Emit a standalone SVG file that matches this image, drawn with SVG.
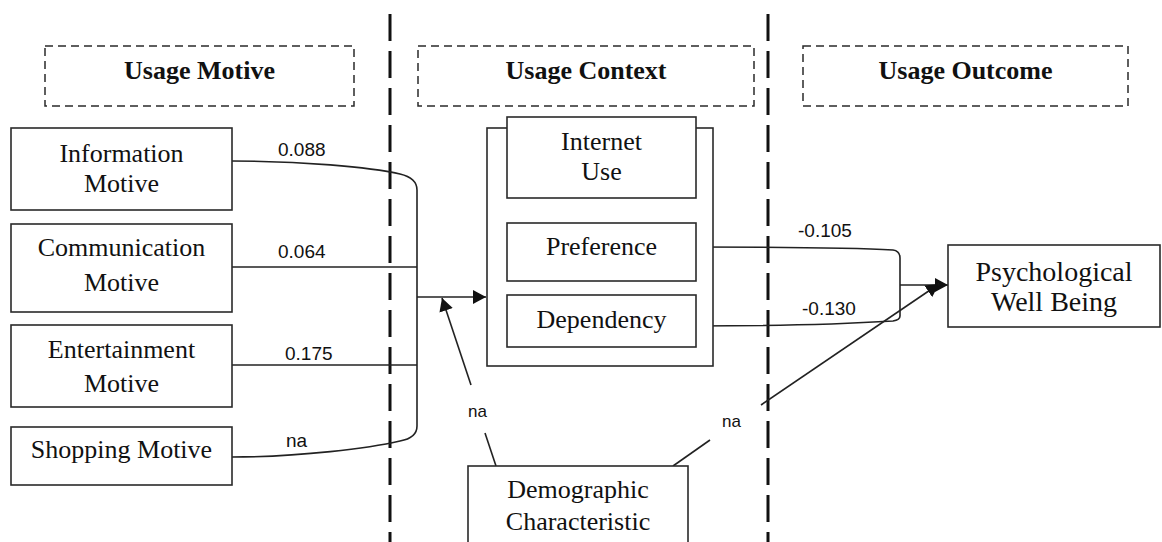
<svg xmlns="http://www.w3.org/2000/svg" width="1162" height="542" viewBox="0 0 1162 542">
  <style>
    .box { fill: #fff; stroke: #2a2a2a; stroke-width: 1.6; }
    .hdr { fill: none; stroke: #2a2a2a; stroke-width: 1.5; stroke-dasharray: 8 5; }
    .divider { fill: none; stroke: #111; stroke-width: 3; stroke-dasharray: 27 10; }
    .wire { fill: none; stroke: #222; stroke-width: 1.6; }
    .node { font-family: "Liberation Serif", "Times New Roman", serif; font-size: 26px; fill: #111; text-anchor: middle; }
    .big { font-size: 28px; }
    .head { font-family: "Liberation Serif", "Times New Roman", serif; font-size: 26px; font-weight: bold; fill: #111; text-anchor: middle; }
    .coef { font-family: "Liberation Sans", Arial, sans-serif; font-size: 19px; fill: #111; }
    .small { font-size: 17px; }
  </style>
  <defs>
    <marker id="arrow" markerUnits="userSpaceOnUse" markerWidth="14" markerHeight="14" refX="13" refY="7" orient="auto">
      <path d="M0,0 L13,7 L0,14 Z" fill="#111"/>
    </marker>
  </defs>

  <rect width="1162" height="542" fill="#fff"/>

  <!-- section dividers -->
  <g id="dividers">
    <line class="divider" x1="390" y1="14" x2="390" y2="542"/>
    <line class="divider" x1="768" y1="14" x2="768" y2="542"/>
  </g>

  <!-- section headings -->
  <g id="head-motive">
    <rect class="hdr" x="45" y="46" width="309" height="60"/>
    <text class="head" x="199.5" y="79">Usage Motive</text>
  </g>
  <g id="head-context">
    <rect class="hdr" x="418" y="46" width="336" height="60"/>
    <text class="head" x="586" y="79">Usage Context</text>
  </g>
  <g id="head-outcome">
    <rect class="hdr" x="803" y="46" width="325" height="60"/>
    <text class="head" x="965.5" y="79">Usage Outcome</text>
  </g>

  <!-- connectors -->
  <g id="connectors">
    <!-- motives joined into one bracket -->
    <path class="wire" d="M232,161 C300,161 370,167 400,174 Q417,178 417,190 V426 Q417,438 400,441 C370,448 300,457 232,457"/>
    <path class="wire" d="M232,267 H417"/>
    <path class="wire" d="M232,365 H417"/>
    <path class="wire" d="M417,297 H486" marker-end="url(#arrow)"/>
    <!-- internet use dimensions into well being -->
    <path class="wire" d="M696,247 C770,247 860,248 893,250 Q900,251 900,258 V316 Q900,320 893,321 C860,323 780,326 696,326"/>
    <path class="wire" d="M900,285 H948" marker-end="url(#arrow)"/>
    <!-- demographic effects -->
    <path class="wire" d="M496,466 L485,433"/>
    <path class="wire" d="M471,385 L442,298" marker-end="url(#arrow)"/>
    <path class="wire" d="M673,466 L710,440"/>
    <path class="wire" d="M761,405 L939,284" marker-end="url(#arrow)"/>
  </g>

  <!-- path coefficients -->
  <g id="labels">
    <text class="coef" x="278" y="156">0.088</text>
    <text class="coef" x="278" y="258">0.064</text>
    <text class="coef" x="285" y="360">0.175</text>
    <text class="coef" x="286" y="447">na</text>
    <text class="coef" x="798" y="237">-0.105</text>
    <text class="coef" x="802" y="315">-0.130</text>
    <text class="coef small" x="468" y="417">na</text>
    <text class="coef small" x="722" y="427">na</text>
  </g>

  <!-- motive nodes -->
  <g id="information-motive">
    <rect class="box" x="11" y="128" width="221" height="82"/>
    <text class="node" x="121.5" y="162">Information</text>
    <text class="node" x="121.5" y="192">Motive</text>
  </g>
  <g id="communication-motive">
    <rect class="box" x="11" y="224" width="221" height="88"/>
    <text class="node" x="121.5" y="256">Communication</text>
    <text class="node" x="121.5" y="291">Motive</text>
  </g>
  <g id="entertainment-motive">
    <rect class="box" x="11" y="325" width="221" height="82"/>
    <text class="node" x="121.5" y="358">Entertainment</text>
    <text class="node" x="121.5" y="392">Motive</text>
  </g>
  <g id="shopping-motive">
    <rect class="box" x="11" y="427" width="221" height="58"/>
    <text class="node" x="121.5" y="458">Shopping Motive</text>
  </g>

  <!-- usage context container -->
  <g id="internet-use-group">
    <rect class="box" x="487" y="128" width="226" height="238" fill="none"/>
  </g>
  <g id="internet-use">
    <rect class="box" x="507" y="117" width="189" height="81"/>
    <text class="node" x="601.5" y="150">Internet</text>
    <text class="node" x="601.5" y="180">Use</text>
  </g>
  <g id="preference">
    <rect class="box" x="507" y="223" width="189" height="58"/>
    <text class="node" x="601.5" y="255">Preference</text>
  </g>
  <g id="dependency">
    <rect class="box" x="507" y="295" width="189" height="52"/>
    <text class="node" x="601.5" y="328">Dependency</text>
  </g>

  <!-- outcome -->
  <g id="well-being">
    <rect class="box" x="948" y="245" width="212" height="82"/>
    <text class="node big" x="1054" y="281">Psychological</text>
    <text class="node big" x="1054" y="311">Well Being</text>
  </g>

  <!-- demographic characteristic -->
  <g id="demographic">
    <rect class="box" x="468" y="466" width="220" height="100"/>
    <text class="node" x="578" y="498">Demographic</text>
    <text class="node" x="578" y="530">Characteristic</text>
  </g>
</svg>
